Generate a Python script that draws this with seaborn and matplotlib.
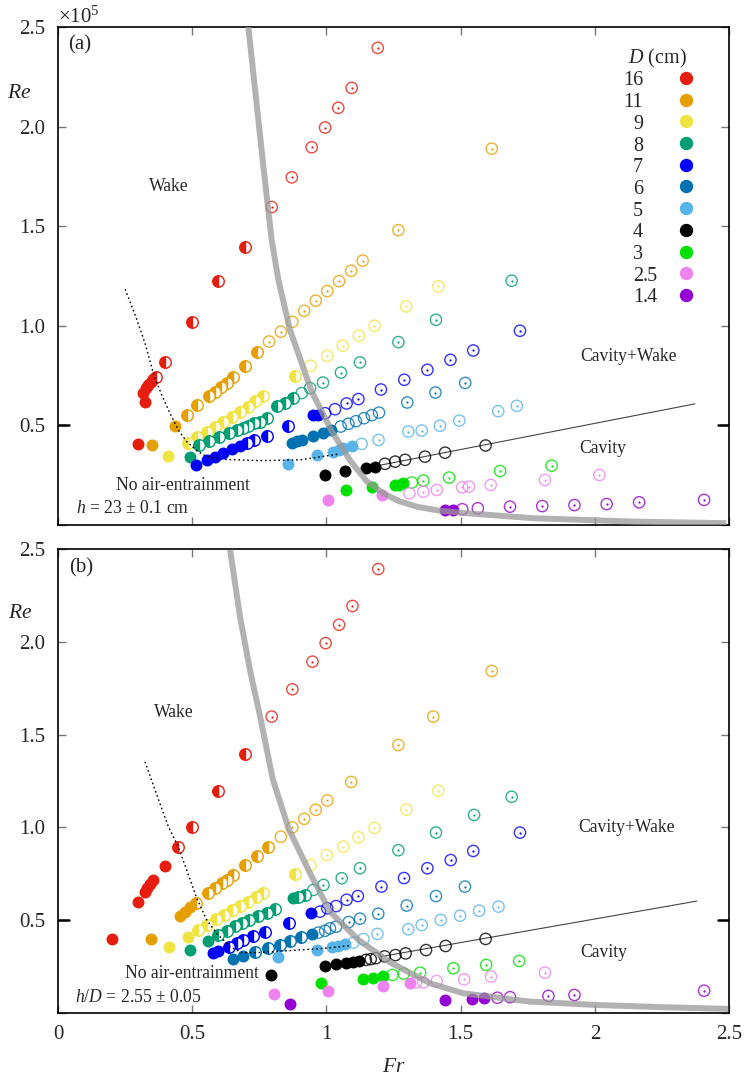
import numpy as np
import pandas as pd
import matplotlib
matplotlib.use('Agg')
import matplotlib.pyplot as plt
import matplotlib.transforms as mtransforms
import seaborn as sns

# Diameters (cm) and their colours
diameters = ['16', '11', '9', '8', '7', '6', '5', '4', '3', '2.5', '1.4']
colors = ['#e51e10', '#e69f00', '#f0e442', '#009e73', '#0000ff', '#0072b2',
          '#56b4e9', '#000000', '#00e000', '#ee82ee', '#9400d3']
# state codes: f = no air-entrainment, h = wake, o = cavity, d = cavity+wake

# ---------- panel (a): h = 23 cm ----------
a_fr_16 = [0.297, 0.318, 0.324, 0.328, 0.337, 0.345, 0.353, 0.364, 0.399, 0.498, 0.597, 0.697,
           0.796, 0.871, 0.945, 0.995, 1.044, 1.094, 1.191]
a_re_16 = [0.407, 0.665, 0.615, 0.687, 0.704, 0.72, 0.732, 0.742, 0.82, 1.02, 1.226, 1.395,
           1.596, 1.745, 1.896, 1.995, 2.094, 2.194, 2.395]
a_st_16 = 'fffffffhhhhhddddddd'

a_fr_11 = [0.349, 0.436, 0.479, 0.517, 0.563, 0.585, 0.607, 0.628, 0.653, 0.697, 0.743,
           0.786, 0.83, 0.873, 0.917, 0.96, 1.003, 1.047, 1.092, 1.135, 1.268, 1.616]
a_re_11 = [0.40, 0.499, 0.553, 0.60, 0.645, 0.67, 0.695, 0.715, 0.745, 0.796, 0.868,
           0.921, 0.97, 1.02, 1.075, 1.126, 1.174, 1.224, 1.276, 1.327, 1.48, 1.889]
a_st_11 = 'ffhhhhhhhhhddodddddddd'

a_fr_9 = [0.411, 0.486, 0.517, 0.554, 0.585, 0.616, 0.647, 0.678, 0.709, 0.734, 0.763, 0.883,
          0.941, 1.003, 1.061, 1.121, 1.179, 1.297, 1.417]
a_re_9 = [0.348, 0.414, 0.444, 0.469, 0.494, 0.519, 0.544, 0.569, 0.594, 0.62, 0.645, 0.75,
          0.799, 0.849, 0.90, 0.95, 1.0, 1.097, 1.198]
a_st_9 = 'fhhhhhhhhhhhodddddd'

a_fr_8 = [0.492, 0.527, 0.564, 0.601, 0.638, 0.666, 0.688, 0.709, 0.730, 0.753, 0.777, 0.815,
          0.846, 0.877, 0.908, 0.939, 0.987, 1.054, 1.125, 1.268, 1.408, 1.69]
a_re_8 = [0.343, 0.402, 0.424, 0.444, 0.464, 0.477, 0.489, 0.499, 0.511, 0.519, 0.536, 0.595,
          0.611, 0.637, 0.662, 0.687, 0.715, 0.765, 0.816, 0.918, 1.03, 1.226]
a_st_8 = 'fhhhhhhhhhhhhhoodddddd'

a_fr_7 = [0.514, 0.554, 0.585, 0.616, 0.647, 0.678, 0.705, 0.731, 0.777, 0.858, 0.951, 0.970,
          0.995, 1.032, 1.075, 1.119, 1.203, 1.29, 1.376, 1.462, 1.547, 1.721]
a_re_7 = [0.30, 0.327, 0.343, 0.36, 0.38, 0.397, 0.41, 0.427, 0.447, 0.499, 0.553, 0.553,
          0.561, 0.581, 0.61, 0.632, 0.68, 0.729, 0.779, 0.829, 0.876, 0.975]
a_st_7 = 'ffffffhhhhffoodddddddd'

a_fr_6 = [0.871, 0.89, 0.908, 0.951, 0.986, 1.017, 1.053, 1.082, 1.11, 1.14, 1.169, 1.196,
          1.301, 1.406, 1.517]
a_re_6 = [0.414, 0.42, 0.427, 0.447, 0.461, 0.477, 0.494, 0.508, 0.521, 0.536, 0.551, 0.564,
          0.615, 0.665, 0.713]
a_st_6 = 'ffffffooooooddd'

a_fr_5 = [0.856, 0.966, 1.026, 1.045, 1.063, 1.094, 1.131, 1.194, 1.305, 1.355, 1.423, 1.495,
          1.64, 1.709]
a_re_5 = [0.306, 0.352, 0.368, 0.375, 0.385, 0.397, 0.407, 0.427, 0.469, 0.474, 0.498, 0.524,
          0.571, 0.598]
a_st_5 = 'ffffffoddddddd'

a_fr_4 = [0.995, 1.069, 1.146, 1.181, 1.218, 1.256, 1.293, 1.367, 1.442, 1.593]
a_re_4 = [0.251, 0.271, 0.285, 0.293, 0.307, 0.318, 0.327, 0.343, 0.363, 0.399]
a_st_4 = 'ffffoooooo'

a_fr_3 = [1.073, 1.169, 1.255, 1.27, 1.287, 1.318, 1.361, 1.457, 1.647, 1.839]
a_re_3 = [0.176, 0.189, 0.199, 0.203, 0.209, 0.213, 0.223, 0.238, 0.271, 0.298]
a_st_3 = 'fffffodddd'

a_fr_25 = [1.007, 1.208, 1.309, 1.361, 1.411, 1.506, 1.531, 1.612, 1.814, 2.017]
a_re_25 = [0.126, 0.151, 0.159, 0.167, 0.176, 0.189, 0.193, 0.201, 0.226, 0.251]
a_st_25 = 'ffoddddddd'

a_fr_14 = [1.442, 1.473, 1.506, 1.564, 1.684, 1.804, 1.924, 2.044, 2.165, 2.407]
a_re_14 = [0.075, 0.075, 0.079, 0.084, 0.092, 0.095, 0.10, 0.105, 0.114, 0.126]
a_st_14 = 'ffoodddddd'

# ---------- panel (b): h/D = 2.55 ----------
b_fr_16 = [0.20, 0.299, 0.324, 0.333, 0.343, 0.355, 0.399, 0.448, 0.498, 0.597, 0.697,
           0.796, 0.873, 0.948, 0.997, 1.047, 1.097, 1.193]
b_re_16 = [0.397, 0.596, 0.654, 0.672, 0.695, 0.717, 0.794, 0.893, 1.0, 1.196, 1.395,
           1.597, 1.744, 1.893, 1.993, 2.092, 2.193, 2.392]
b_st_16 = 'fffffffhhhhddddddd'

b_fr_11 = [0.347, 0.455, 0.473, 0.492, 0.514, 0.56, 0.585, 0.61, 0.628, 0.653, 0.697, 0.74,
           0.784, 0.83, 0.873, 0.917, 0.96, 1.003, 1.092, 1.268, 1.398, 1.616]
b_re_11 = [0.397, 0.523, 0.546, 0.569, 0.594, 0.648, 0.672, 0.699, 0.717, 0.744, 0.797, 0.846,
           0.896, 0.95, 1.0, 1.046, 1.095, 1.145, 1.245, 1.444, 1.597, 1.843]
b_st_11 = 'ffffhhhhhhhhhodddddddd'

b_fr_9 = [0.414, 0.486, 0.523, 0.554, 0.589, 0.62, 0.647, 0.678, 0.709, 0.738, 0.765, 0.883,
          0.941, 1.001, 1.063, 1.119, 1.179, 1.298, 1.417]
b_re_9 = [0.354, 0.411, 0.447, 0.474, 0.505, 0.528, 0.555, 0.576, 0.60, 0.623, 0.648, 0.749,
          0.797, 0.851, 0.896, 0.947, 0.997, 1.096, 1.198]
b_st_9 = 'ffhhhhhhhhhhodddddd'

b_fr_8 = [0.492, 0.56, 0.597, 0.628, 0.659, 0.684, 0.713, 0.746, 0.777, 0.808, 0.877, 0.895,
          0.92, 0.951, 0.989, 1.057, 1.125, 1.268, 1.408, 1.55, 1.69]
b_re_8 = [0.339, 0.39, 0.42, 0.443, 0.469, 0.483, 0.501, 0.523, 0.537, 0.559, 0.618, 0.627,
          0.636, 0.663, 0.69, 0.726, 0.78, 0.877, 0.972, 1.067, 1.165]
b_st_8 = 'ffhhhhhhhhfhhoddddddd'

b_fr_7 = [0.579, 0.597, 0.638, 0.666, 0.69, 0.728, 0.771, 0.862, 0.941, 0.976, 1.003, 1.036,
          1.075, 1.117, 1.205, 1.289, 1.376, 1.463, 1.547, 1.721]
b_re_7 = [0.325, 0.336, 0.357, 0.379, 0.393, 0.415, 0.438, 0.487, 0.537, 0.546, 0.564, 0.576,
          0.61, 0.63, 0.681, 0.727, 0.78, 0.824, 0.873, 0.972]
b_st_7 = 'ffhhhhhhfooodddddddd'

b_fr_6 = [0.651, 0.69, 0.734, 0.784, 0.827, 0.864, 0.904, 0.945, 0.97, 0.995, 1.013, 1.036,
          1.083, 1.125, 1.193, 1.299, 1.408, 1.516]
b_re_6 = [0.289, 0.307, 0.33, 0.348, 0.366, 0.39, 0.411, 0.426, 0.433, 0.443, 0.456, 0.465,
          0.49, 0.508, 0.535, 0.579, 0.63, 0.681]
b_st_6 = 'ffhhhhhfoooodddddd'

b_fr_5 = [0.821, 0.966, 1.02, 1.044, 1.069, 1.1, 1.138, 1.19, 1.305, 1.355, 1.426, 1.498,
          1.569, 1.641]
b_re_5 = [0.30, 0.339, 0.354, 0.361, 0.372, 0.379, 0.398, 0.426, 0.451, 0.474, 0.501, 0.524,
          0.551, 0.573]
b_st_5 = 'fffffooddddddd'

b_fr_4 = [0.794, 0.995, 1.036, 1.071, 1.1, 1.122, 1.147, 1.165, 1.184, 1.217, 1.257, 1.295,
          1.371, 1.444, 1.593]
b_re_4 = [0.205, 0.255, 0.262, 0.27, 0.276, 0.281, 0.286, 0.29, 0.295, 0.305, 0.312, 0.321,
          0.339, 0.361, 0.399]
b_st_4 = 'ffffffooooooooo'

b_fr_3 = [0.98, 1.135, 1.172, 1.21, 1.246, 1.288, 1.349, 1.473, 1.595, 1.718]
b_re_3 = [0.16, 0.182, 0.188, 0.197, 0.205, 0.212, 0.217, 0.241, 0.259, 0.28]
b_st_3 = 'ffffoodddd'

b_fr_25 = [0.806, 1.007, 1.21, 1.311, 1.334, 1.361, 1.411, 1.513, 1.613, 1.814]
b_re_25 = [0.101, 0.119, 0.145, 0.16, 0.164, 0.165, 0.172, 0.181, 0.196, 0.217]
b_st_25 = 'ffffoooddd'

b_fr_14 = [0.864, 1.442, 1.541, 1.587, 1.637, 1.684, 1.827, 1.924, 2.407]
b_re_14 = [0.048, 0.07, 0.075, 0.079, 0.082, 0.085, 0.092, 0.097, 0.12]
b_st_14 = 'ffffooddd'

# regime boundaries
a_bound_fr = [0.709, 0.765, 0.796, 0.821, 0.864, 0.945, 1.02, 1.09, 1.15, 1.212, 1.27, 1.336,
              1.42, 1.523, 1.771, 2.143, 2.49]
a_bound_re = [2.50, 1.80, 1.43, 1.23, 0.98, 0.67, 0.47, 0.32, 0.22, 0.159, 0.12, 0.092,
              0.072, 0.059, 0.034, 0.017, 0.009]
b_bound_fr = [0.641, 0.678, 0.715, 0.753, 0.80, 0.86, 0.939, 1.013, 1.12, 1.24, 1.386, 1.51,
              1.759, 2.007, 2.255, 2.497]
b_bound_re = [2.495, 2.135, 1.848, 1.597, 1.26, 0.99, 0.753, 0.546, 0.393, 0.27, 0.16, 0.106,
              0.061, 0.043, 0.031, 0.022]

a_air_fr = [0.25, 0.287, 0.324, 0.355, 0.386, 0.417, 0.448, 0.479, 0.517, 0.554, 0.604, 0.753,
            0.902, 1.051]
a_air_re = [1.184, 1.055, 0.913, 0.762, 0.653, 0.561, 0.477, 0.419, 0.373, 0.343, 0.33, 0.323,
            0.327, 0.357]
b_air_fr = [0.324, 0.368, 0.411, 0.448, 0.517, 0.554, 0.591, 0.641, 0.684, 0.74, 0.864, 0.989,
            1.088]
b_air_re = [1.354, 1.175, 1.004, 0.896, 0.618, 0.501, 0.429, 0.357, 0.325, 0.325, 0.336, 0.348,
            0.363]

a_cav_fr = [1.20, 2.373]
a_cav_re = [0.30, 0.608]
b_cav_fr = [1.20, 2.38]
b_cav_re = [0.303, 0.603]

x_ticks = [0, 0.5, 1, 1.5, 2, 2.5]
x_tick_labels = ['0', '0.5', '1', '1.5', '2', '2.5']
y_ticks = [0, 0.5, 1.0, 1.5, 2.0, 2.5]
y_tick_labels = ['', '0.5', '1.0', '1.5', '2.0', '2.5']


def make_frame(frs, res, sts):
    rows = []
    for d, fr, re, st in zip(diameters, frs, res, sts):
        for x, y, s in zip(fr, re, st):
            rows.append((d, x, y, s))
    return pd.DataFrame(rows, columns=['D', 'Fr', 'Re', 'state'])


df_a = make_frame(
    [a_fr_16, a_fr_11, a_fr_9, a_fr_8, a_fr_7, a_fr_6, a_fr_5, a_fr_4, a_fr_3, a_fr_25, a_fr_14],
    [a_re_16, a_re_11, a_re_9, a_re_8, a_re_7, a_re_6, a_re_5, a_re_4, a_re_3, a_re_25, a_re_14],
    [a_st_16, a_st_11, a_st_9, a_st_8, a_st_7, a_st_6, a_st_5, a_st_4, a_st_3, a_st_25, a_st_14])
df_b = make_frame(
    [b_fr_16, b_fr_11, b_fr_9, b_fr_8, b_fr_7, b_fr_6, b_fr_5, b_fr_4, b_fr_3, b_fr_25, b_fr_14],
    [b_re_16, b_re_11, b_re_9, b_re_8, b_re_7, b_re_6, b_re_5, b_re_4, b_re_3, b_re_25, b_re_14],
    [b_st_16, b_st_11, b_st_9, b_st_8, b_st_7, b_st_6, b_st_5, b_st_4, b_st_3, b_st_25, b_st_14])

sns.set_style('ticks')
plt.rcParams['font.family'] = ['Liberation Serif', 'DejaVu Serif']
plt.rcParams['mathtext.fontset'] = 'custom'
plt.rcParams['mathtext.rm'] = 'Liberation Serif'
plt.rcParams['mathtext.it'] = 'Liberation Serif:italic'

FS = 15      # tick labels, panel tags, axis labels
LEG = 14.5   # legend
ANN = 12.7   # regime annotations


def draw_points(ax, df):
    for d, c in zip(diameters, colors):
        sub = df[df.D == d]
        filled = sub[sub.state == 'f']
        if len(filled):
            sns.scatterplot(data=filled, x='Fr', y='Re', color=c, s=74, linewidth=0,
                            ax=ax, zorder=3, legend=False)
        opened = sub[sub.state.isin(['o', 'd'])]
        if len(opened):
            sns.scatterplot(data=opened, x='Fr', y='Re', color=c, facecolor='none',
                            edgecolor=c, s=66, linewidth=1.0, alpha=0.8,
                            ax=ax, zorder=3, legend=False)
        dotted = sub[sub.state == 'd']
        if len(dotted):
            sns.scatterplot(data=dotted, x='Fr', y='Re', color=c, s=2.5, linewidth=0,
                            ax=ax, zorder=3, legend=False)
        half = sub[sub.state == 'h']
        if len(half):
            ax.plot(half.Fr, half.Re, ls='none', marker='o', ms=8.3, fillstyle='left',
                    markerfacecolor=c, markerfacecoloralt='white', markeredgecolor=c,
                    markeredgewidth=1.0, zorder=3)


def style_axes(ax, show_x):
    ax.set_xlim(0, 2.5)
    ax.set_ylim(0, 2.5)
    ax.set_xticks(x_ticks)
    ax.set_xticklabels(x_tick_labels)
    ax.set_yticks(y_ticks)
    ax.set_yticklabels(y_tick_labels)
    ax.tick_params(direction='in', top=True, right=True, length=5.5, width=1.0,
                   color='#777777', labelsize=FS, pad=9, labelbottom=show_x)
    for sp in ax.spines.values():
        sp.set_visible(True)
        sp.set_color('black')
        sp.set_linewidth(1.2)
    ax.set_xlabel('')
    ax.set_ylabel('')
    trans = mtransforms.blended_transform_factory(ax.transAxes, ax.transData)
    ax.plot([0, 0.016], [0.5, 0.5], color='black', lw=1.8, transform=trans, zorder=6)
    ax.plot([0.984, 1.0], [0.5, 0.5], color='black', lw=1.8, transform=trans, zorder=6)


def draw_panel(ax, df, bound_fr, bound_re, air_fr, air_re, cav_fr, cav_re):
    ax.plot(cav_fr, cav_re, color='#444444', lw=0.8, zorder=2)
    draw_points(ax, df)
    ax.plot(bound_fr, bound_re, color='#999999', lw=4.3, alpha=0.75, zorder=4,
            solid_capstyle='butt', solid_joinstyle='round')
    ax.plot(air_fr, air_re, color='black', lw=1.0, ls=(0, (1.2, 2.0)), zorder=5)


fig = plt.figure(figsize=(7.45, 10.82), dpi=100)
ax1 = fig.add_axes([0.0779, 0.5148, 0.9007, 0.4603])
ax2 = fig.add_axes([0.0779, 0.0638, 0.9007, 0.4288])

draw_panel(ax1, df_a, a_bound_fr, a_bound_re, a_air_fr, a_air_re, a_cav_fr, a_cav_re)
draw_panel(ax2, df_b, b_bound_fr, b_bound_re, b_air_fr, b_air_re, b_cav_fr, b_cav_re)
style_axes(ax1, False)
style_axes(ax2, True)

# panel (a) text
ax1.text(0.038, 2.41, '(a)', fontsize=FS, ha='left', va='center')
ax1.text(0.414, 1.70, 'Wake', fontsize=ANN, ha='center', va='center')
ax1.text(2.124, 0.844, 'Cavity+Wake', fontsize=ANN, ha='center', va='center')
ax1.text(2.03, 0.382, 'Cavity', fontsize=ANN, ha='center', va='center')
ax1.text(0.464, 0.196, 'No air-entrainment', fontsize=ANN, ha='center', va='center')
ax1.text(0.067, 0.085, '$h$ = 23 ± 0.1 cm', fontsize=ANN, ha='left', va='center')
ax1.text(0.0, 1.008, r'$\times10^5$', fontsize=FS, ha='left', va='baseline',
         transform=ax1.transAxes)
ax1.text(-0.0586, 0.867, '$Re$', fontsize=FS + 0.5, ha='center', va='center',
         transform=ax1.transAxes)

# panel (b) text
ax2.text(0.040, 2.40, '(b)', fontsize=FS, ha='left', va='center')
ax2.text(0.432, 1.62, 'Wake', fontsize=ANN, ha='center', va='center')
ax2.text(2.119, 1.002, 'Cavity+Wake', fontsize=ANN, ha='center', va='center')
ax2.text(2.035, 0.325, 'Cavity', fontsize=ANN, ha='center', va='center')
ax2.text(0.498, 0.21, 'No air-entrainment', fontsize=ANN, ha='center', va='center')
ax2.text(0.063, 0.081, '$h/D$ = 2.55 ± 0.05', fontsize=ANN, ha='left', va='center')
ax2.text(-0.0566, 0.862, '$Re$', fontsize=FS + 0.5, ha='center', va='center',
         transform=ax2.transAxes)
ax2.text(0.5, -0.1185, '$Fr$', fontsize=FS + 0.5, ha='center', va='center',
         transform=ax2.transAxes)

# key for the diameters (decimal-aligned numbers, markers on the right)
ax_h_px, ax_w_px = 498.0, 671.0
num_x = (643 - 58) / ax_w_px
mark_x = (686 - 58) / ax_w_px
ax1.text((657 - 58) / ax_w_px, (525 - 63.5) / ax_h_px, '$D$ (cm)', fontsize=LEG,
         ha='center', va='baseline', transform=ax1.transAxes)
for i, (d, c) in enumerate(zip(diameters, colors)):
    row_px = 78 + 21.7 * i
    y_mark = (525 - row_px) / ax_h_px
    y_base = (525 - row_px - 7.5) / ax_h_px
    whole, _, frac = d.partition('.')
    ax1.text(num_x, y_base, whole, fontsize=LEG, ha='right', va='baseline',
             transform=ax1.transAxes)
    if frac:
        ax1.text(num_x, y_base, '.' + frac, fontsize=LEG, ha='left', va='baseline',
                 transform=ax1.transAxes)
    ax1.plot([mark_x], [y_mark], ls='none', marker='o', ms=8.6, markerfacecolor=c,
             markeredgecolor=c, transform=ax1.transAxes, clip_on=False, zorder=6)

fig.savefig('out.png', dpi=100)
